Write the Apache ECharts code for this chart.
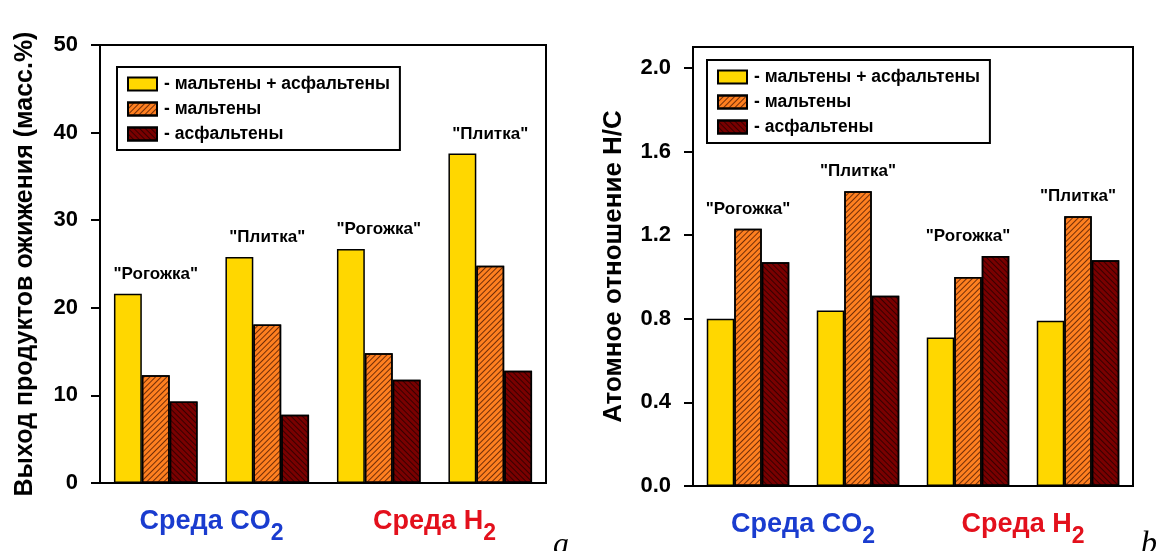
<!DOCTYPE html>
<html><head><meta charset="utf-8">
<script src="https://cdn.jsdelivr.net/npm/echarts@6/dist/echarts.min.js"></script>
<style>html,body{margin:0;padding:0;background:#fff}#c{width:1162px;height:551px}</style>
</head><body><div id="c"></div>
<script>
// ---- data ----
const groups = ['Рогожка CO2', 'Плитка CO2', 'Рогожка H2', 'Плитка H2'];
const groupLabels = ['"Рогожка"', '"Плитка"', '"Рогожка"', '"Плитка"'];
const seriesNames = ['- мальтены + асфальтены', '- мальтены', '- асфальтены'];
const yieldTotal = [21.6, 25.8, 26.7, 37.6];
const yieldMalt  = [12.3, 18.1, 14.8, 24.8];
const yieldAsph  = [9.3, 7.8, 11.8, 12.8];
const hcTotal = [0.80, 0.84, 0.71, 0.79];
const hcMalt  = [1.23, 1.41, 1.00, 1.29];
const hcAsph  = [1.07, 0.91, 1.10, 1.08];
const envNames = ['Среда CO', 'Среда H'];
const envSubs = ['2', '2'];
const yieldTicks = [0, 10, 20, 30, 40, 50];
const hcTicks = [0, 0.4, 0.8, 1.2, 1.6, 2.0];
const yTitleLeft = 'Выход продуктов ожижения (масс.%)';
const yTitleRight = 'Атомное отношение Н/С';

// ---- styles ----
const FONT = 'Liberation Sans';
const colors = ['#FFD700', '#FF8020', '#7A0000'];
const decals = [
  null,
  {symbol: 'rect', symbolSize: 1, dashArrayX: [1, 0], dashArrayY: [1, 3], rotation: -Math.PI / 4, color: 'rgba(80,25,0,0.8)'},
  {symbol: 'rect', symbolSize: 1, dashArrayX: [1, 0], dashArrayY: [1, 3], rotation: Math.PI / 4, color: 'rgba(0,0,0,0.55)'}
];
const envColors = ['#1a3ccf', '#e3101c'];

const chart = echarts.init(document.getElementById('c'), null, {renderer: 'canvas'});

function barSeries(vals, k, axIdx) {
  const st = {color: colors[k], borderColor: '#000', borderWidth: 1.5};
  if (decals[k]) st.decal = decals[k];
  return {
    type: 'bar', name: seriesNames[k], data: vals,
    xAxisIndex: axIdx.x, yAxisIndex: axIdx.y,
    barGap: '0%', barCategoryGap: '25%',
    itemStyle: st, silent: true, animation: false
  };
}
function labelSeries(a, b, c, axIdx) {
  return {
    type: 'scatter', data: a.map((v, i) => Math.max(v, b[i], c[i])),
    xAxisIndex: axIdx.x, yAxisIndex: axIdx.y,
    symbolSize: 0.1, itemStyle: {color: 'transparent'}, silent: true, z: 10,
    label: {show: true, position: 'top', distance: 11, opacity: 1,
      formatter: p => groupLabels[p.dataIndex],
      fontFamily: FONT, fontWeight: 'bold', fontSize: 17, color: '#000'}
  };
}
function envAxis(gridIndex) {
  const rich = {};
  envColors.forEach((c, i) => {
    rich['m' + i] = {color: c, fontFamily: FONT, fontWeight: 'bold', fontSize: 27, lineHeight: 28, verticalAlign: 'top'};
    rich['s' + i] = {color: c, fontFamily: FONT, fontWeight: 'bold', fontSize: 23, lineHeight: 24, padding: [14, 0, 0, 0], verticalAlign: 'top'};
  });
  return {
    type: 'category', gridIndex, data: envNames, position: 'bottom',
    axisLine: {show: false}, axisTick: {show: false}, splitLine: {show: false},
    axisLabel: {margin: 25, interval: 0,
      formatter: (v, i) => '{m' + i + '|' + v + '}{s' + i + '|' + envSubs[i] + '}', rich}
  };
}
function barAxis(gridIndex) {
  return {
    type: 'category', gridIndex, data: groups, position: 'bottom',
    axisLine: {show: true, lineStyle: {color: '#000', width: 2}},
    axisTick: {show: false}, axisLabel: {show: false}, splitLine: {show: false}
  };
}
function yAxis(gridIndex, max, ticks, name, gap, nameSize, fmt) {
  return {
    type: 'value', gridIndex, min: 0, max: max,
    name: name, nameLocation: 'middle', nameGap: gap,
    nameTextStyle: {fontFamily: FONT, fontSize: nameSize, color: '#000', fontWeight: 'bold'},
    axisLine: {show: true, lineStyle: {color: '#000', width: 2}},
    axisTick: {show: true, inside: false, length: 9, lineStyle: {color: '#000', width: 2}, customValues: ticks},
    axisLabel: {show: true, margin: 22, fontFamily: FONT, fontWeight: 'bold', fontSize: 22, color: '#000',
      customValues: ticks, formatter: fmt},
    splitLine: {show: false}
  };
}
function legendBox(left, top) {
  return {
    orient: 'vertical', left: left, top: top,
    data: seriesNames, icon: 'rect', itemWidth: 29, itemHeight: 13, itemGap: 7,
    padding: [8, 10, 7, 10], borderColor: '#000', borderWidth: 2, backgroundColor: '#fff',
    selectedMode: false,
    textStyle: {fontFamily: FONT, fontWeight: 'bold', fontSize: 17.5, color: '#000', padding: [0, 0, 0, 2]}
  };
}

const option = {
  animation: false,
  backgroundColor: '#fff',
  grid: [
    {left: 100, top: 45, width: 446, height: 438, show: true, borderColor: '#000', borderWidth: 2},
    {left: 693, top: 47, width: 440, height: 439, show: true, borderColor: '#000', borderWidth: 2}
  ],
  xAxis: [barAxis(0), envAxis(0), barAxis(1), envAxis(1)],
  yAxis: [
    yAxis(0, 50, yieldTicks, yTitleLeft, 62, 25, v => String(v)),
    yAxis(1, 2.1, hcTicks, yTitleRight, 66, 26, v => Number(v).toFixed(1))
  ],
  legend: [legendBox(117, 67), legendBox(707, 60)],
  series: [
    barSeries(yieldTotal, 0, {x: 0, y: 0}),
    barSeries(yieldMalt, 1, {x: 0, y: 0}),
    barSeries(yieldAsph, 2, {x: 0, y: 0}),
    labelSeries(yieldTotal, yieldMalt, yieldAsph, {x: 0, y: 0}),
    barSeries(hcTotal, 0, {x: 2, y: 1}),
    barSeries(hcMalt, 1, {x: 2, y: 1}),
    barSeries(hcAsph, 2, {x: 2, y: 1}),
    labelSeries(hcTotal, hcMalt, hcAsph, {x: 2, y: 1})
  ],
  graphic: [
    {type: 'text', x: 553, y: 562, style: {text: 'a', font: 'italic 32px "Liberation Serif"', fill: '#000', textBaseline: 'alphabetic', verticalAlign: 'bottom'}},
    {type: 'text', left: 1141, top: 529, style: {text: 'b', font: 'italic 32px "Liberation Serif"', fill: '#000'}}
  ]
};
chart.setOption(option);
</script>
</body></html>
